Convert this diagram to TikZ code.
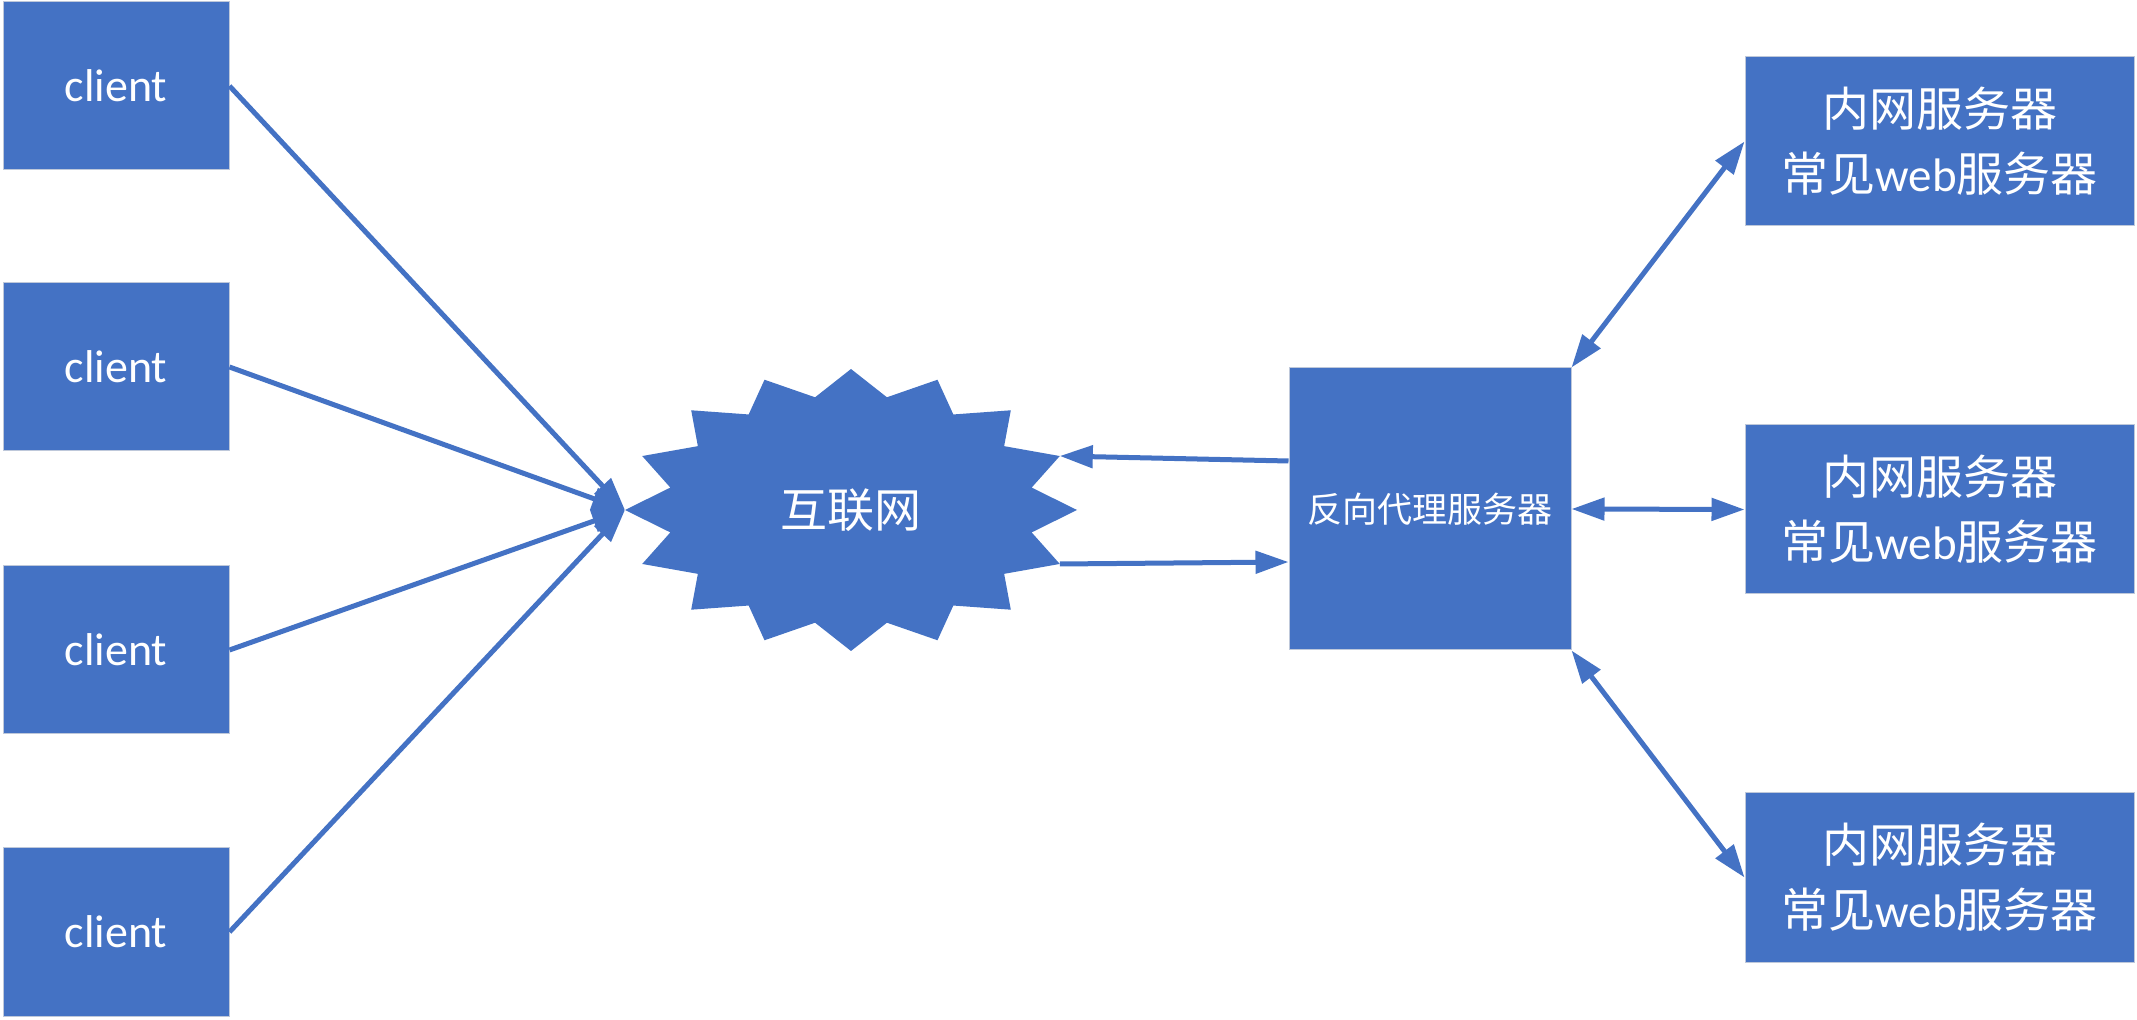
\documentclass[tikz,border=0pt]{standalone}
\usepackage{fontspec}
\setmainfont{Carlito}
\newfontfamily\cjk{Noto Sans CJK SC}
\usetikzlibrary{arrows.meta}
\definecolor{obl}{RGB}{68,114,196}
\definecolor{edgegray}{RGB}{190,200,218}
\begin{document}
\begin{tikzpicture}[x=0.5pt,y=-0.5pt,
 box/.style={fill=obl,draw=edgegray,line width=0.5pt,text=white,inner sep=0pt,align=center},
 clientbox/.style={box,minimum width=113pt,minimum height=84pt,font=\fontsize{23}{28}\selectfont},
 srvbox/.style={box,minimum width=194.5pt,minimum height=84.5pt,font=\cjk\fontsize{23.5}{32.5}\selectfont},
 proxybox/.style={box,minimum width=141pt,minimum height=141pt,font=\cjk\fontsize{17.5}{21}\selectfont},
 link/.style={draw=obl,line width=2.5pt,-{Triangle[length=16.5pt,width=11pt]}},
 dlink/.style={draw=obl,line width=2.5pt,{Triangle[length=16.5pt,width=11pt]}-{Triangle[length=16.5pt,width=11pt]}}]
\useasboundingbox[fill=white] (0,0) rectangle (2137,1020);

% clients
\node[clientbox] (c1) at (116,86) {client};
\node[clientbox] (c2) at (116,367) {client};
\node[clientbox] (c3) at (116,650) {client};
\node[clientbox] (c4) at (116,932) {client};

% internet starburst
\fill[obl] (1077,510) \foreach \i in {1,...,31}{
  -- ({851+226*(1-0.185*mod(\i,2))*cos(\i*11.25)},{510+141*(1-0.185*mod(\i,2))*sin(\i*11.25)}) } -- cycle;
\node[text=white,font=\cjk\fontsize{23.5}{28}\selectfont] (net) at (851,510) {互联网};
\coordinate (netW) at (625,510);
\coordinate (netNE) at (1059.8,456);
\coordinate (netSE) at (1059.8,564);

% proxy
\node[proxybox] (proxy) at (1430,509) {反向代理服务器};

% servers
\node[srvbox] (s1) at (1939.5,141.5) {内网服务器\\常见{\rmfamily web}服务器};
\node[srvbox] (s2) at (1939.5,509.5) {内网服务器\\常见{\rmfamily web}服务器};
\node[srvbox] (s3) at (1939.5,877.5) {内网服务器\\常见{\rmfamily web}服务器};

% connectors
\draw[link] (c1.east) -- (netW);
\draw[link] (c2.east) -- (netW);
\draw[link] (c3.east) -- (netW);
\draw[link] (c4.east) -- (netW);

\draw[link] ([yshift=24pt]proxy.west) -- (netNE);
\draw[link] (netSE) -- ([yshift=-26.5pt]proxy.west);

\draw[dlink] (proxy.north east) -- (s1.west);
\draw[dlink] (proxy.east) -- (s2.west);
\draw[dlink] (proxy.south east) -- (s3.west);
\end{tikzpicture}
\end{document}
